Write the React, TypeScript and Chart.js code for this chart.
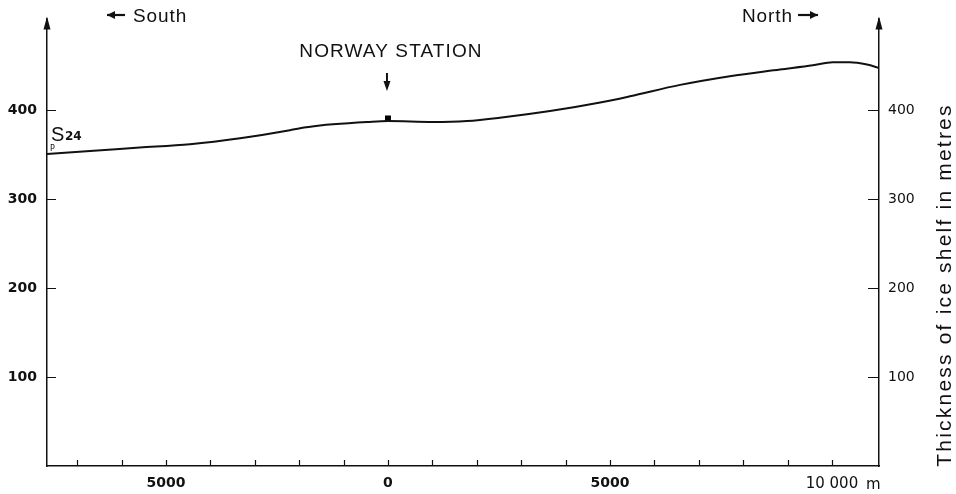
import React, { useEffect, useRef } from "react";
import { Chart, registerables } from "chart.js";

Chart.register(...registerables);

// Distance from Norway Station (m; negative = south) and ice-shelf thickness (m)
const distanceM = [-7680, -6710, -5590, -4460, -3330, -2210, -1980, -1530, -1240, -470, 0, 1010, 1780, 2520, 3650, 4780, 5450, 6580, 7700, 8830, 9570, 10020, 10400, 10790, 11060];
const thicknessM = [350.7, 354.1, 357.8, 361.6, 368.3, 377.3, 379.6, 382.6, 384.0, 386.6, 387.7, 386.6, 387.7, 391.4, 398.9, 408.5, 415.5, 428.3, 438.1, 445.6, 450.4, 453.8, 453.8, 451.2, 447.4];

const stationDistance = [0];
const stationThickness = [390.5];

const xTickValues = [-7000, -6000, -5000, -4000, -3000, -2000, -1000, 0, 1000, 2000, 3000, 4000, 5000, 6000, 7000, 8000, 9000, 10000];
const xTickLabels: Record<string, string> = { "-5000": "5000", "0": "0", "5000": "5000", "10000": "10 000" };
const yTickValues = [100, 200, 300, 400];

const xMin = -7680;
const xMax = 11060;
const yMin = 0;
const yMax = 503;

const rightTitle = "Thickness of ice shelf in metres";
const stationLabel = "NORWAY STATION";
const southLabel = "South";
const northLabel = "North";

const INK = "#111";

function hArrow(ctx: CanvasRenderingContext2D, x0: number, x1: number, y: number, dir: number) {
  ctx.beginPath();
  ctx.lineWidth = 2.2;
  ctx.moveTo(x0, y);
  ctx.lineTo(x1, y);
  ctx.stroke();
  const tip = dir < 0 ? x0 : x1;
  const base = tip - dir * 8;
  ctx.beginPath();
  ctx.moveTo(tip, y);
  ctx.lineTo(base, y - 4);
  ctx.lineTo(base, y + 4);
  ctx.closePath();
  ctx.fill();
}

function vArrowUp(ctx: CanvasRenderingContext2D, x: number, tipY: number) {
  ctx.beginPath();
  ctx.moveTo(x, tipY);
  ctx.lineTo(x - 3.5, tipY + 13);
  ctx.lineTo(x + 3.5, tipY + 13);
  ctx.closePath();
  ctx.fill();
}

const extras = {
  id: "extras",
  afterDraw(chart: any) {
    const { ctx, chartArea } = chart;
    const xs = chart.scales.x;
    const yl = chart.scales.y;
    const { left, right, top, bottom } = chartArea;
    ctx.save();
    ctx.fillStyle = INK;
    ctx.strokeStyle = INK;

    vArrowUp(ctx, left, top - 2);
    vArrowUp(ctx, right, top - 2);

    ctx.lineWidth = 1.2;
    ctx.beginPath();
    for (const v of yTickValues) {
      const py = Math.round(yl.getPixelForValue(v)) + 0.5;
      ctx.moveTo(left, py);
      ctx.lineTo(left + 9, py);
      ctx.moveTo(right - 11, py);
      ctx.lineTo(right, py);
    }
    for (const v of xTickValues) {
      const px = Math.round(xs.getPixelForValue(v)) + 0.5;
      ctx.moveTo(px, bottom);
      ctx.lineTo(px, bottom - 6);
    }
    ctx.stroke();

    ctx.textBaseline = "alphabetic";
    ctx.textAlign = "left";
    ctx.font = '19px "Liberation Sans"';
    (ctx as any).letterSpacing = "0.9px";
    hArrow(ctx, 107, 125, 15, -1);
    ctx.fillText(southLabel, 133, 22);
    ctx.fillText(northLabel, 742, 22);
    hArrow(ctx, 798, 818, 15, 1);

    const sx = xs.getPixelForValue(stationDistance[0]);
    ctx.font = '19px "Liberation Sans"';
    (ctx as any).letterSpacing = "1.1px";
    ctx.textAlign = "center";
    ctx.fillText(stationLabel, sx + 3, 57);
    (ctx as any).letterSpacing = "0px";
    ctx.lineWidth = 2;
    ctx.beginPath();
    ctx.moveTo(sx - 1, 73);
    ctx.lineTo(sx - 1, 84);
    ctx.stroke();
    ctx.beginPath();
    ctx.moveTo(sx - 1, 91);
    ctx.lineTo(sx - 4.5, 81);
    ctx.lineTo(sx + 2.5, 81);
    ctx.closePath();
    ctx.fill();

    ctx.textAlign = "left";
    ctx.font = '20px "Liberation Sans"';
    ctx.fillText("S", 51, 141);
    ctx.font = 'bold 12px "DejaVu Sans"';
    ctx.fillText("24", 65, 140);
    ctx.font = '8px "DejaVu Sans"';
    ctx.fillText("P", 50, 151);

    const p10 = xs.getPixelForValue(10000);
    ctx.font = '15px "DejaVu Sans"';
    ctx.fillText("m", p10 + 34, 489);

    ctx.translate(945, 285);
    ctx.rotate(-Math.PI / 2);
    ctx.font = '21px "Liberation Sans"';
    (ctx as any).letterSpacing = "2.2px";
    ctx.textAlign = "center";
    ctx.textBaseline = "middle";
    ctx.fillText(rightTitle, 0, 0);
    ctx.restore();
  },
};

export default function App() {
  const ref = useRef<HTMLCanvasElement | null>(null);
  useEffect(() => {
    if (!ref.current) return;
    const chart = new Chart(ref.current, {
      type: "scatter",
      data: {
        datasets: [
          {
            data: distanceM.map((d, i) => ({ x: d, y: thicknessM[i] })),
            showLine: true,
            borderColor: INK,
            borderWidth: 2,
            pointRadius: 0,
            cubicInterpolationMode: "monotone",
          } as any,
          {
            data: stationDistance.map((d, i) => ({ x: d, y: stationThickness[i] })),
            pointStyle: "rect",
            pointRadius: 4.2,
            backgroundColor: "#000",
            borderColor: "#000",
            borderWidth: 0,
          } as any,
        ],
      },
      options: {
        animation: false,
        responsive: false,
        layout: { padding: { top: 17, left: 0, right: 0, bottom: 0 } },
        plugins: { legend: { display: false }, tooltip: { enabled: false } },
        scales: {
          x: {
            type: "linear",
            position: "bottom",
            min: xMin,
            max: xMax,
            afterBuildTicks: (s: any) => {
              s.ticks = xTickValues.map((v) => ({ value: v }));
            },
            afterFit: (s: any) => {
              s.height = 28;
            },
            grid: { display: false, drawTicks: false },
            border: { display: true, color: INK, width: 1.5 },
            ticks: {
              autoSkip: false,
              maxRotation: 0,
              padding: 9,
              color: INK,
              font: (c: any) => ({
                family: "DejaVu Sans",
                size: c.tick && c.tick.value === 10000 ? 15 : 14,
                weight: c.tick && c.tick.value === 10000 ? "normal" : "bold",
              }),
              callback: (v: any) => xTickLabels[String(v)] ?? "",
            },
          },
          y: {
            type: "linear",
            position: "left",
            min: yMin,
            max: yMax,
            afterBuildTicks: (s: any) => {
              s.ticks = yTickValues.map((v) => ({ value: v }));
            },
            afterFit: (s: any) => {
              s.width = 47;
            },
            grid: { display: false, drawTicks: false },
            border: { display: true, color: INK, width: 1.5 },
            ticks: {
              padding: 10,
              color: INK,
              font: { family: "DejaVu Sans", size: 14, weight: "bold" },
            },
          },
          y2: {
            type: "linear",
            position: "right",
            min: yMin,
            max: yMax,
            afterBuildTicks: (s: any) => {
              s.ticks = yTickValues.map((v) => ({ value: v }));
            },
            afterFit: (s: any) => {
              s.width = 77;
            },
            grid: { display: false, drawTicks: false },
            border: { display: true, color: INK, width: 1.5 },
            ticks: {
              padding: 9,
              color: INK,
              font: { family: "DejaVu Sans", size: 14, weight: "normal" },
            },
          },
        },
      } as any,
      plugins: [extras],
    });
    return () => chart.destroy();
  }, []);
  return (
    <div style={{ position: "fixed", left: 0, top: 0, width: 956, height: 494, background: "#fff" }}>
      <canvas ref={ref} width={956} height={494} style={{ display: "block" }} />
    </div>
  );
}
